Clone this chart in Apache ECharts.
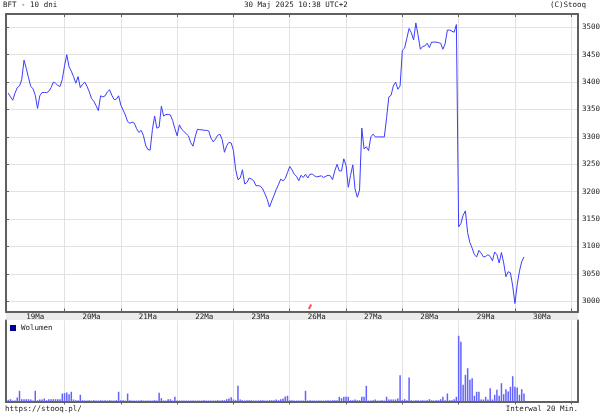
<!DOCTYPE html>
<html><head><meta charset="utf-8">
<script src="https://cdn.jsdelivr.net/npm/echarts@6/dist/echarts.min.js"></script>
<style>html,body{margin:0;padding:0;background:#fff}#c{width:605px;height:416px}</style>
</head><body><div id="c"></div>
<script>
// ---- tick labels ----
const dayLabels = ['19Ma','20Ma','21Ma','22Ma','23Ma','26Ma','27Ma','28Ma','29Ma','30Ma'];
const priceTicks = [3000,3050,3100,3150,3200,3250,3300,3350,3400,3450,3500];

// ---- close prices, 20-minute bars (25 per session) ----
const p19 = [3380,3373,3367,3380,3390,3393,3405,3440,3425,3408,3392,3388,3376,3352,3375,3381,3381,3381,3383,3390,3400,3398,3394,3392,3405];
const p20 = [3430,3450,3428,3420,3410,3398,3410,3390,3396,3400,3392,3382,3370,3365,3357,3348,3375,3373,3375,3382,3386,3376,3368,3369,3375];
const p21 = [3358,3349,3340,3328,3325,3327,3325,3315,3308,3312,3303,3285,3277,3276,3313,3338,3316,3318,3356,3338,3341,3341,3340,3330,3315];
const p22 = [3302,3322,3314,3310,3306,3302,3290,3283,3300,3314,3313,3313,3312,3312,3311,3298,3291,3296,3303,3305,3295,3272,3284,3290,3289];
const p23 = [3275,3240,3222,3225,3240,3214,3217,3225,3223,3220,3211,3211,3210,3205,3196,3186,3172,3183,3193,3204,3213,3223,3220,3224,3235];
const p26 = [3246,3240,3232,3228,3220,3230,3226,3232,3225,3232,3232,3229,3227,3228,3229,3226,3228,3230,3229,3222,3238,3250,3238,3238,3260];
const p27 = [3248,3208,3230,3249,3205,3190,3203,3316,3278,3282,3275,3300,3305,3300,3300,3300,3300,3300,3335,3373,3376,3393,3400,3387,3393];
const p28 = [3458,3462,3480,3498,3490,3477,3508,3485,3460,3465,3466,3471,3463,3473,3473,3473,3472,3471,3460,3470,3495,3495,3493,3491,3505];
const p29 = [3136,3142,3157,3165,3125,3107,3097,3085,3081,3093,3088,3081,3082,3085,3082,3074,3090,3085,3070,3089,3070,3045,3054,3052,3028];
const p30 = [2996,3030,3055,3072,3081];

// ---- volume (relative bar heights) ----
const v19 = [1.7,2.3,1,1,4,10.7,2.3,2.3,2.3,2.3,2,1,10.7,1.3,2,2,3,1.3,2.3,2.3,2.3,2.3,2.3,2.3,8];
const v20 = [8.3,9,7.3,9.7,2,1.3,1.3,6.7,1.3,1,1,1.3,1,1.3,1,1,1.3,1,1.3,1,1.3,1,1,1.3,9.7];
const v21 = [1.3,1.3,1,8,1.3,1,1,1,1,1.3,1,1,1,1,1,1.3,1,8.7,3.3,1,1,2.3,2.3,1,4.7];
const v22 = [1,1,1,1,1,1,1,1,1,1,1,1,1.3,1,1,1,1,1,1.3,1,1.3,1.3,2.3,3,4.3];
const v23 = [2,1.3,15.7,2,1.3,1,1.3,1.3,1.3,1,1,1,1.3,1.3,1,1,1.3,1.3,1.3,2,1.3,2.3,3,5,5.7];
const v26 = [1.3,1.3,1,1,1,1,1,10.7,1,1.3,1,1,1,1,1,1,1,1.3,1,1.3,1.3,1.3,4.7,3.3,4.7];
const v27 = [4.7,4.7,1.3,1.3,2,1.3,1.3,4.7,4.7,15.7,1,1,1.3,2,1,1,1.3,1,4.7,2,2,2,2,3,26.3];
const v28 = [1.3,2.3,1.3,24,1.3,1,1.3,1.3,1,1.3,1,1.3,2.3,1.3,1,1.3,1.3,2.3,4.7,1.3,8,1.3,1.3,2.3,4.7];
const v29 = [65.7,59.7,16.7,26.7,33.3,21.7,23.3,5.7,9.7,9.7,2,2,4.7,2,13.3,2,6.7,11.7,5.7,18.3,7.3,12.3,10,14.7,25.3];
const v30 = [14.7,14,6.7,12.3,8];

// ---- event marker (slot index, price) ----
const eventSlot = [135];
const eventPrice = [2990];

const SLOTS_PER_DAY = 25;
const TOTAL_SLOTS = 255;
const prices = [null].concat(p19,p20,p21,p22,p23,p26,p27,p28,p29,p30);
const volumes = [null].concat(v19,v20,v21,v22,v23,v26,v27,v28,v29,v30);
const cats = [];
for (let i = 0; i < TOTAL_SLOTS; i++) cats.push(String(i));
const isDayStart = (i) => i > 1 && i % SLOTS_PER_DAY === 1;
const isDayMid = (i) => i % SLOTS_PER_DAY === 13 && Math.floor(i / SLOTS_PER_DAY) < dayLabels.length;

const FONT = 'DejaVu Sans Mono';
const FRAME = '#606060';
const GRID = '#e2e2e2';
const tStyle = {fontSize: 7.5, fontWeight: 'normal', color: '#222', fontFamily: FONT};

const chart = echarts.init(document.getElementById('c'), null, {renderer: 'canvas'});
chart.setOption({
  animation: false,
  backgroundColor: '#fff',
  textStyle: {fontFamily: FONT},
  title: [
    {text: 'BFT - 10 dni', left: 3, top: 1, padding: 0, textStyle: tStyle},
    {text: '30 Maj 2025 10:38 UTC+2', left: 244, top: 1, padding: 0, textStyle: tStyle},
    {text: '(C)Stooq', right: 19, top: 1, padding: 0, textStyle: tStyle},
    {text: 'https://stooq.pl/', left: 5, top: 405, padding: 0, textStyle: tStyle},
    {text: 'Interwal 20 Min.', right: 27, top: 405, padding: 0, textStyle: tStyle}
  ],
  legend: {
    left: 10, top: 324, padding: 0, itemWidth: 6, itemHeight: 6, icon: 'rect',
    textStyle: {fontSize: 7.5, color: '#222', fontFamily: FONT},
    data: [{name: 'Wolumen', itemStyle: {color: '#000090'}}]
  },
  graphic: [
    {type: 'rect', shape: {x: 6, y: 312.5, width: 572, height: 7.5}, style: {fill: '#ebebeb'}, z: 0, silent: true}
  ],
  grid: [
    {left: 6, right: 27, top: 14, height: 297.5},
    {left: 6, right: 27, top: 320.5, height: 81}
  ],
  xAxis: [
    {gridIndex: 0, type: 'category', data: cats, boundaryGap: false, position: 'bottom',
      axisLine: {show: true, lineStyle: {color: FRAME, width: 2}},
      axisTick: {show: true, inside: true, length: 3, interval: (i) => isDayStart(i), lineStyle: {color: FRAME}},
      axisLabel: {show: true, interval: (i) => isDayMid(i), formatter: (v, i) => dayLabels[Math.floor(i / SLOTS_PER_DAY)] || '',
        margin: 2, fontSize: 7.5, color: '#222', fontFamily: FONT},
      splitLine: {show: true, interval: (i) => isDayStart(i), lineStyle: {color: GRID, width: 1}}},
    {gridIndex: 0, type: 'category', data: cats, boundaryGap: false, position: 'top',
      axisLine: {show: true, lineStyle: {color: FRAME, width: 2}},
      axisTick: {show: true, inside: true, length: 3, interval: (i) => isDayStart(i), lineStyle: {color: FRAME}},
      axisLabel: {show: false}, splitLine: {show: false}},
    {gridIndex: 1, type: 'category', data: cats, boundaryGap: false, position: 'bottom',
      axisLine: {show: true, lineStyle: {color: FRAME, width: 2}},
      axisTick: {show: false}, axisLabel: {show: false},
      splitLine: {show: true, interval: (i) => isDayStart(i), lineStyle: {color: GRID, width: 1}}},
    {gridIndex: 1, type: 'category', data: cats, boundaryGap: false, position: 'top',
      axisLine: {show: true, lineStyle: {color: FRAME, width: 2}},
      axisTick: {show: true, inside: true, length: 3, interval: (i) => isDayStart(i), lineStyle: {color: FRAME}},
      axisLabel: {show: false}, splitLine: {show: false}}
  ],
  yAxis: [
    {gridIndex: 0, type: 'value', position: 'right', min: 2981.4, max: 3524.3, splitNumber: 10,
      axisLine: {show: true, lineStyle: {color: FRAME, width: 2}},
      axisTick: {show: false},
      axisLabel: {show: true, margin: 4, fontSize: 7.5, color: '#222', fontFamily: FONT,
        formatter: (v) => priceTicks.indexOf(Math.round(v)) >= 0 && Math.abs(v - Math.round(v)) < 1e-6 ? String(Math.round(v)) : ''},
      splitLine: {show: true, lineStyle: {color: GRID, width: 1}}},
    {gridIndex: 0, type: 'value', position: 'left', min: 2981.4, max: 3524.3, splitNumber: 10,
      axisLine: {show: true, lineStyle: {color: FRAME, width: 2}},
      axisTick: {show: true, inside: true, length: 3, lineStyle: {color: FRAME}},
      axisLabel: {show: false}, splitLine: {show: false}},
    {gridIndex: 1, type: 'value', position: 'right', min: 0, max: 81,
      axisLine: {show: true, lineStyle: {color: FRAME, width: 2}},
      axisTick: {show: false}, axisLabel: {show: false}, splitLine: {show: false}},
    {gridIndex: 1, type: 'value', position: 'left', min: 0, max: 81,
      axisLine: {show: true, lineStyle: {color: FRAME, width: 2}},
      axisTick: {show: false}, axisLabel: {show: false}, splitLine: {show: false}}
  ],
  series: [
    {name: 'BFT', type: 'line', xAxisIndex: 0, yAxisIndex: 0, data: prices, showSymbol: false,
      lineStyle: {color: '#3c3cff', width: 1}, itemStyle: {color: '#3c3cff'}, z: 5},
    {name: 'event', type: 'scatter', xAxisIndex: 0, yAxisIndex: 0,
      data: eventSlot.map((s, k) => [String(s), eventPrice[k]]),
      symbol: 'rect', symbolSize: [2, 5], symbolRotate: -30, itemStyle: {color: '#ff2020'}, z: 6},
    {name: 'Wolumen', type: 'bar', xAxisIndex: 2, yAxisIndex: 2, data: volumes, barWidth: 1.5,
      itemStyle: {color: '#6262ff'}}
  ]
});
</script>
</body></html>
